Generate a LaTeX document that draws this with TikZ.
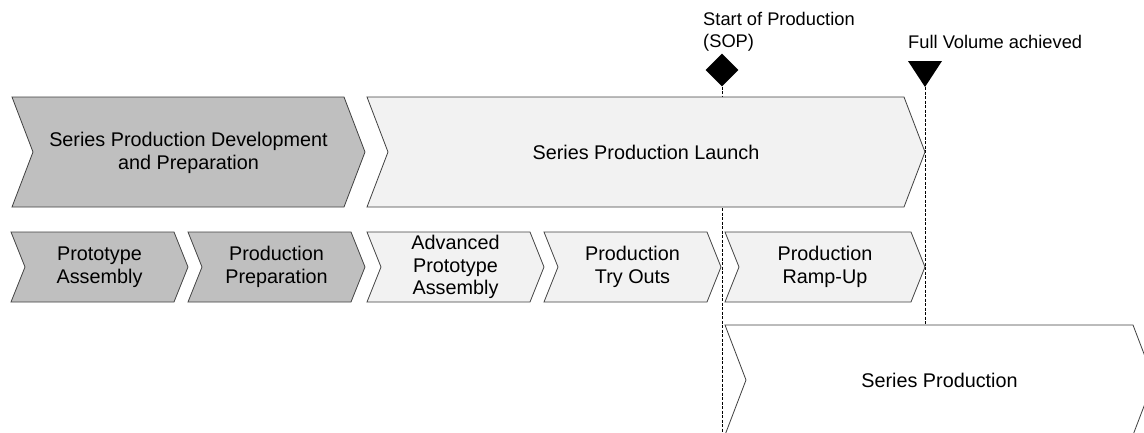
\documentclass[tikz,border=0pt]{standalone}
\usepackage{fontspec}
\setmainfont{Liberation Sans}
\usetikzlibrary{shapes.geometric}

\definecolor{edgegray}{HTML}{404040}
\definecolor{darkphase}{HTML}{BFBFBF}
\definecolor{lightphase}{HTML}{F2F2F2}

\tikzset{
  phase/.style={draw=edgegray, line width=0.8pt, line join=miter},
  phasetext/.style={align=center, inner sep=0pt, font=\fontsize{19.8}{22.5}\selectfont},
  milestone/.style={fill=black, inner sep=0pt},
  mslabel/.style={align=left, inner sep=0pt, anchor=base west, font=\fontsize{18.3}{21.5}\selectfont},
  msline/.style={line width=0.8pt, dash pattern=on 3pt off 1.5pt}
}

\begin{document}
\begin{tikzpicture}[x=1pt, y=-1pt]
\useasboundingbox (0,0) rectangle (1144,432);
% Milestones
\node[milestone, diamond, minimum size=33pt] (sop) at (722,70) {};
\node[mslabel] (soplabel) at (703,47) {Start of Production\\(SOP)};
\fill (908,61) -- (942,61) -- (925,87) coordinate (fvtip) -- cycle;
\node[mslabel] (fvlabel) at (908,48) {Full Volume achieved};
% Dashed lines down from the milestones
\coordinate (sopend) at (722,432);
\coordinate (fvend) at (925,325);
\draw[msline] (sop.south) -- (sopend);
\draw[msline] (fvtip) -- (fvend);
% Upper row of phases
\draw[phase, fill=darkphase] (12,97) -- (344,97) -- (365,152) -- (344,207) -- (12,207) -- (33,152) -- cycle;
\node[phasetext] (devprep) at (188.5,153) {Series Production Development\\and Preparation};
\draw[phase, fill=lightphase] (367,97) -- (904,97) -- (925,152) -- (904,207) -- (367,207) -- (388,152) -- cycle;
\node[phasetext] (launch) at (646,152) {Series Production Launch};
% Lower row of phases
\foreach \xa/\xb/\fc/\nm/\txt in {11/174/darkphase/proto/{Prototype\\Assembly},
    188/351/darkphase/prep/{Production\\Preparation},
    367/530/lightphase/advproto/{Advanced\\Prototype\\Assembly},
    544/707/lightphase/tryouts/{Production\\Try Outs},
    725/911/lightphase/rampup/{Production\\Ramp-Up}}{
  \draw[phase, fill=\fc] (\xa,232) -- (\xb,232) -- (\xb+14,267) -- (\xb,302) -- (\xa,302) -- (\xa+14,267) -- cycle;
  \node[phasetext] (\nm) at ({(\xa+\xb+14)/2},267) {\txt};
}
% Series production
\draw[phase, fill=white] (725,325) -- (1133,325) -- (1154,380) -- (1133,435) -- (725,435) -- (746,380) -- cycle;
\node[phasetext] (series) at (939.5,380) {Series Production};
\end{tikzpicture}
\end{document}
